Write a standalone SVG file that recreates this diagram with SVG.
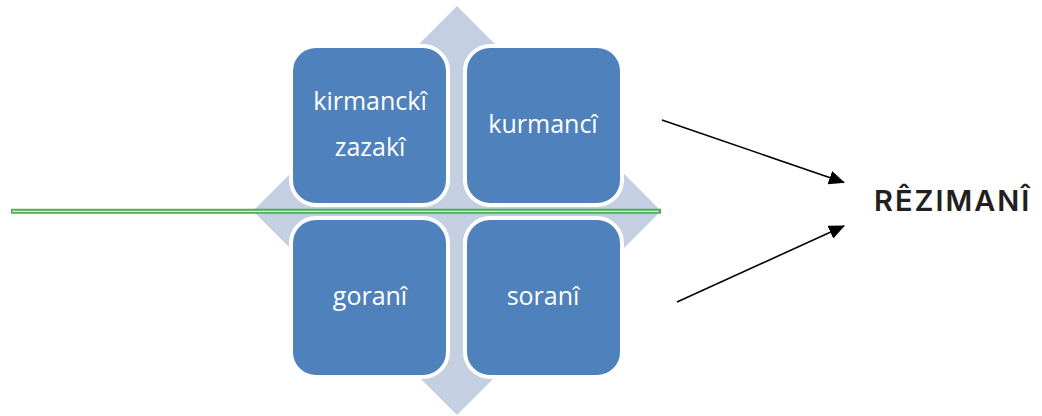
<svg xmlns="http://www.w3.org/2000/svg" width="1042" height="416" viewBox="0 0 1042 416">
  <style>
    .cell { fill: #4F81BD; stroke: #FFFFFF; stroke-width: 4; }
    .label { font-family: "Open Sans", "Liberation Sans", sans-serif; font-size: 25px; fill: #FFFFFF; text-anchor: middle; }
    .title { font-family: "Inter", "DejaVu Sans", sans-serif; font-weight: 600; font-size: 29px; fill: #231F20; letter-spacing: 2px; }
    .arrow { stroke: #000000; stroke-width: 1.6; fill: none; marker-end: url(#head); }
  </style>
  <defs>
    <marker id="head" viewBox="0 0 16 14" refX="15" refY="7" markerWidth="16" markerHeight="14" markerUnits="userSpaceOnUse" orient="auto">
      <path d="M0,0 L16,7 L0,14 Z" fill="#000000"/>
    </marker>
  </defs>

  <!-- background diamond behind the matrix -->
  <polygon id="backdrop" points="457,6 661,211 457,415 253,211" fill="#C5CFE2"/>

  <g id="cell-kirmancki">
    <rect class="cell" x="291" y="46" width="157" height="159" rx="25"/>
    <text class="label" x="370" y="110">kirmanckî</text>
    <text class="label" x="370" y="156">zazakî</text>
  </g>
  <g id="cell-kurmanci">
    <rect class="cell" x="465" y="46" width="157" height="159" rx="25"/>
    <text class="label" x="543" y="133">kurmancî</text>
  </g>
  <g id="cell-gorani">
    <rect class="cell" x="291" y="218" width="157" height="159" rx="25"/>
    <text class="label" x="370" y="305">goranî</text>
  </g>
  <g id="cell-sorani">
    <rect class="cell" x="465" y="218" width="157" height="159" rx="25"/>
    <text class="label" x="543" y="305">soranî</text>
  </g>

  <!-- horizontal divider: double green rule -->
  <g id="divider">
    <line x1="11" y1="211.3" x2="661" y2="211.3" stroke="#4CAF50" stroke-width="5"/>
    <line x1="12.5" y1="211.3" x2="658.5" y2="211.3" stroke="#FFFFFF" stroke-width="1"/>
  </g>

  <g id="connectors">
    <line class="arrow" x1="662" y1="120" x2="844" y2="182.5"/>
    <line class="arrow" x1="677" y1="302" x2="844" y2="226"/>
  </g>

  <g id="node-rezimani">
    <text class="title" x="874" y="211">RÊZIMANÎ</text>
  </g>
</svg>
